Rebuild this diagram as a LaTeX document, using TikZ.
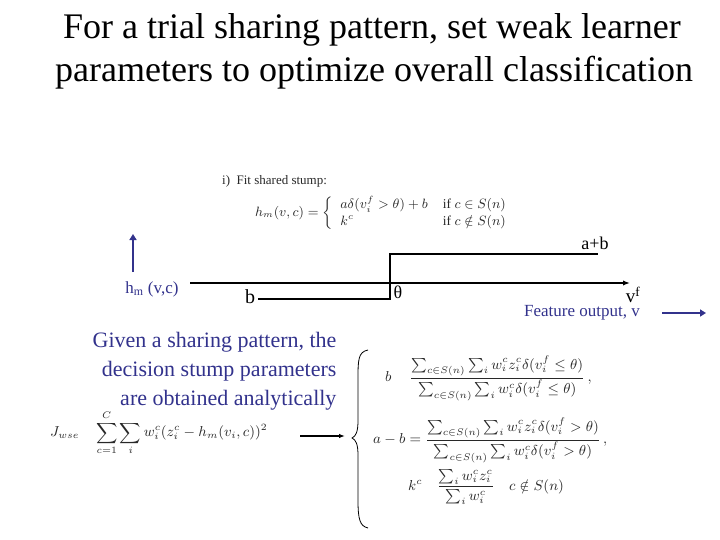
\documentclass[tikz,border=0pt]{standalone}
\usepackage{amsmath,amssymb}
\usepackage{fontspec}
\setmainfont{Liberation Serif}
\usetikzlibrary{arrows.meta}
\definecolor{navy}{RGB}{50,50,140}
\definecolor{mgray}{RGB}{40,40,40}
\begin{document}
\begin{tikzpicture}[x=1pt,y=-1pt,
  bl/.style={text=navy},
  mth/.style={text=mgray,inner sep=0pt},
  stk/.style={line width=2.2pt,black}]
\useasboundingbox (0,0) rectangle (720,540);
\node (t1) at (372,30) {\fontsize{36}{40}\selectfont For a trial sharing pattern, set weak learner};
\node (t2) at (374,73) {\fontsize{36}{40}\selectfont parameters to optimize overall classification};
\node[mth,anchor=west] (fit) at (222,181) {\fontsize{13}{15}\selectfont i)\ \ Fit shared stump:};
\node[mth,anchor=west] (hf) at (255,213) {\scalebox{1.5}{\small $h_m(v,c)=\left\{\begin{array}{ll} a\delta(v_i^f>\theta)+b & \text{if } c\in S(n)\\ k^c & \text{if } c\notin S(n)\end{array}\right.$}};
% axis and stump
\coordinate (ax0) at (190,283); \coordinate (ax1) at (630,283);
\draw[line width=1.6pt,-{Latex[length=7pt]}] (ax0) -- (ax1);
\coordinate (b0) at (258,299); \coordinate (s0) at (390,299);
\coordinate (s1) at (390,254); \coordinate (e1) at (598,254);
\draw[stk] (b0) -- (s0) -- (s1) -- (e1);
\node (ab) at (595,243) {\fontsize{18}{20}\selectfont a+b};
\node (bb) at (250,297) {\fontsize{20}{22}\selectfont b};
\node (th) at (398,292) {\fontsize{18}{20}\selectfont θ};
\node (vf) at (633,295) {\fontsize{19}{22}\selectfont v$^{\mathrm{f}}$};
\node[bl] (hm) at (152,289) {\fontsize{17}{19}\selectfont h$_{\mathrm{m}}$ (v,c)};
\coordinate (ua0) at (133,272); \coordinate (ua1) at (133,234);
\draw[navy,line width=2.5pt,-{Triangle[length=6pt,width=7pt]}] (ua0) -- (ua1);
\node[bl] (fo) at (582,313) {\fontsize{17}{19}\selectfont Feature output, v};
\coordinate (ra0) at (662,313); \coordinate (ra1) at (706,313);
\draw[navy,line width=2.5pt,-{Triangle[length=6pt,width=7pt]}] (ra0) -- (ra1);
\node[bl,anchor=east,align=right,font=\fontsize{22}{29}\selectfont] (gv) at (340,371) {Given a sharing pattern, the\\ decision stump parameters\\ are obtained analytically};
\node[mth,anchor=west] (jw) at (50,433) {\scalebox{1.6}{\small $J_{wse}\quad \displaystyle\sum_{c=1}^{C}\sum_i w_i^c(z_i^c-h_m(v_i,c))^2$}};
\coordinate (ja0) at (300,436); \coordinate (ja1) at (345,436);
\draw[line width=1.5pt,-{Latex[length=6pt]}] (ja0) -- (ja1);
\coordinate (bt) at (368,350); \coordinate (bm) at (352,438); \coordinate (bb2) at (368,528);
\draw[line width=0.8pt] (bt) .. controls (358,352) and (358,360) .. (358,380) -- (358,420) .. controls (358,432) and (356,436) .. (bm)
  .. controls (356,440) and (358,444) .. (358,456) -- (358,500) .. controls (358,520) and (360,526) .. (bb2);
\node[mth,anchor=west] (e1n) at (385,378) {\scalebox{1.6}{\small $b\quad\ \dfrac{\sum_{c\in S(n)}\sum_i w_i^c z_i^c\delta(v_i^f\le\theta)}{\sum_{c\in S(n)}\sum_i w_i^c\delta(v_i^f\le\theta)}\,,$}};
\node[mth,anchor=west] (e2n) at (373,440) {\scalebox{1.6}{\small $a-b=\dfrac{\sum_{c\in S(n)}\sum_i w_i^c z_i^c\delta(v_i^f>\theta)}{\sum_{c\in S(n)}\sum_i w_i^c\delta(v_i^f>\theta)}\,,$}};
\node[mth,anchor=west] (e3n) at (408,487) {\scalebox{1.6}{\small $k^c\quad \dfrac{\sum_i w_i^c z_i^c}{\sum_i w_i^c}\quad c\notin S(n)$}};
\end{tikzpicture}
\end{document}
